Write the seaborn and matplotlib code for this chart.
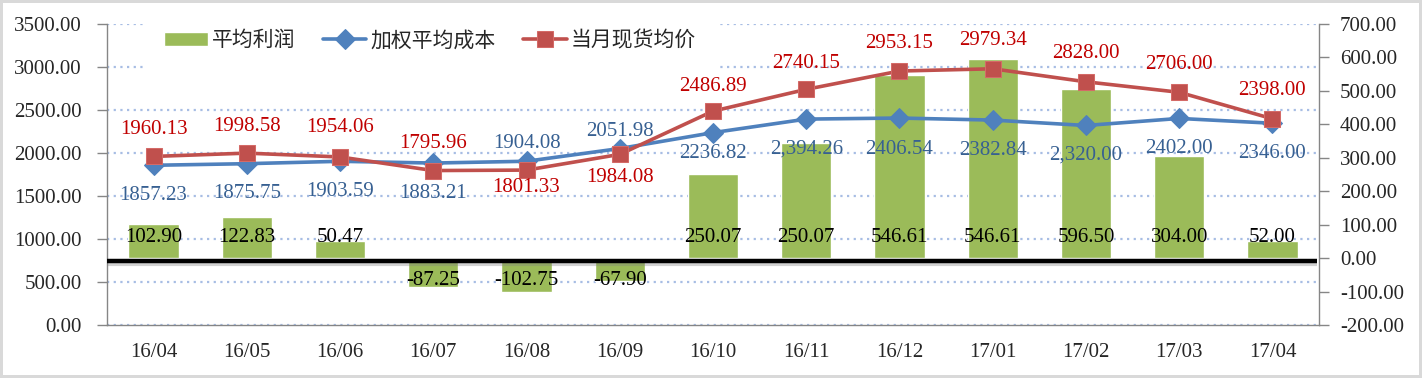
import numpy as np
import matplotlib
matplotlib.use('Agg')
import matplotlib.pyplot as plt
import matplotlib.transforms as mtransforms
from matplotlib.ticker import FormatStrFormatter
import seaborn as sns

# data
months = ['16/04', '16/05', '16/06', '16/07', '16/08', '16/09', '16/10',
          '16/11', '16/12', '17/01', '17/02', '17/03', '17/04']
profit = [102.90, 122.83, 50.47, -87.25, -102.75, -67.90, 250.07,
          345.0, 546.61, 596.50, 505.0, 304.00, 52.00]
profit_labels = ['102.90', '122.83', '50.47', '-87.25', '-102.75', '-67.90', '250.07',
                 '250.07', '546.61', '546.61', '596.50', '304.00', '52.00']
cost = [1857.23, 1875.75, 1903.59, 1883.21, 1904.08, 2051.98, 2236.82,
        2394.26, 2406.54, 2382.84, 2320.00, 2402.00, 2346.00]
cost_labels = ['1857.23', '1875.75', '1903.59', '1883.21', '1904.08', '2051.98', '2236.82',
               '2,394.26', '2406.54', '2382.84', '2,320.00', '2402.00', '2346.00']
spot = [1960.13, 1998.58, 1954.06, 1795.96, 1801.33, 1984.08, 2486.89,
        2740.15, 2953.15, 2979.34, 2828.00, 2706.00, 2398.00]
series_names = ['平均利润', '加权平均成本', '当月现货均价']

# label offsets in pixels (style, not data)
spot_dy = [27, 27, 29, 27, -17, -23, 25, 26, 28, 28, 28, 28, 28]
cost_dy = [-30, -30, -30, -30, 18, 17, -21, -30, -31, -30, -30, -30, -30]

green = '#9BBB59'
blue = '#4F81BD'
red = '#C0504D'
gray = '#868686'

sns.set_style('white')
plt.rcParams['font.family'] = ['Liberation Serif', 'Noto Sans CJK SC', 'DejaVu Sans']

fig = plt.figure(figsize=(14.22, 3.78), dpi=100)
fig.patch.set_edgecolor('#D9D9D9')
fig.patch.set_linewidth(4)

ax = fig.add_axes([0.0752, 0.1402, 0.8524, 0.7963])
axb = ax.twinx()
axl = ax.twinx()

x = np.arange(len(months))

# bars on the right axis
sns.barplot(x=months, y=profit, ax=axb, color=green, saturation=1,
            width=0.54, label=series_names[0])
if axb.get_legend():
    axb.get_legend().remove()

# thick zero line with a soft shadow
tr = mtransforms.offset_copy(axb.get_yaxis_transform(), fig=fig, y=-3, units='dots')
tr_sh = mtransforms.offset_copy(axb.get_yaxis_transform(), fig=fig, y=-6, units='dots')
axb.plot([0, 0.9985], [0, 0], transform=tr_sh, color='#7F7F7F', lw=3, alpha=0.35,
         solid_capstyle='butt')
axb.plot([0, 0.9985], [0, 0], transform=tr, color='black', lw=3.2, solid_capstyle='butt')

for i, (v, t) in enumerate(zip(profit, profit_labels)):
    dy = 21 if v >= 0 else -22
    axb.annotate(t, (i, 0), xytext=(0, dy), textcoords='offset pixels',
                 ha='center', va='center', fontsize=15, color='black')

# lines on the left axis (top layer)
sns.lineplot(x=x, y=cost, ax=axl, color=blue, marker='D', markersize=10,
             markeredgecolor=blue, linewidth=2.6, label=series_names[1])
sns.lineplot(x=x, y=spot, ax=axl, color=red, marker='s', markersize=12,
             markeredgecolor='#D46A67', linewidth=2.6, label=series_names[2])

for i in range(len(months)):
    axl.annotate(f'{spot[i]:.2f}', (i, spot[i]), xytext=(0, spot_dy[i]),
                 textcoords='offset pixels', ha='center', va='center',
                 fontsize=15, color='#C00000')
    axl.annotate(cost_labels[i], (i, cost[i]), xytext=(0, cost_dy[i]),
                 textcoords='offset pixels', ha='center', va='center',
                 fontsize=15, color='#376092')

# axes limits and ticks
ax.set_ylim(0, 3500)
axl.set_ylim(0, 3500)
axb.set_ylim(-200, 700)
ax.set_xlim(-0.5, len(months) - 0.5)

ax.set_yticks(np.arange(0, 3501, 500))
axb.set_yticks(np.arange(-200, 701, 100))
ax.yaxis.set_major_formatter(FormatStrFormatter('%.2f'))
axb.yaxis.set_major_formatter(FormatStrFormatter('%.2f'))
ax.yaxis.grid(True, linestyle=(0, (1, 2)), color='#A7BDE4', linewidth=1.6)

ax.set_xticks(x)
ax.set_xticklabels(months)
ax.set_xticks(np.arange(-0.5, len(months), 1), minor=True)
ax.tick_params(axis='x', which='major', length=0, pad=13, labelsize=15)
ax.tick_params(axis='x', which='minor', length=8, width=1, color=gray, direction='out')
ax.tick_params(axis='y', length=7, width=1, color=gray, direction='out', pad=11, labelsize=15)
axb.tick_params(axis='y', length=7, width=1, color=gray, direction='out', pad=8, labelsize=15)
axl.yaxis.set_visible(False)

for a in (ax, axb, axl):
    a.set_xlabel('')
    a.set_ylabel('')
    for s in a.spines.values():
        s.set_visible(False)
ax.spines['left'].set_visible(True)
ax.spines['bottom'].set_visible(True)
axb.spines['right'].set_visible(True)
for s in (ax.spines['left'], ax.spines['bottom'], axb.spines['right']):
    s.set_color(gray)
    s.set_linewidth(1)

# legend combining the bar and line series
hb, lb = axb.get_legend_handles_labels()
hl, ll = axl.get_legend_handles_labels()
leg = axl.legend(hb + hl, lb + ll, loc='upper left', bbox_to_anchor=(0.03, 1.052),
                 ncol=3, frameon=True, fancybox=False, borderpad=1.0, borderaxespad=0,
                 handlelength=2.1, handletextpad=0.2, columnspacing=1.3,
                 prop={'family': ['Noto Sans CJK SC'], 'size': 15})
leg.get_frame().set_facecolor('white')
leg.get_frame().set_edgecolor('none')
leg.get_frame().set_alpha(1)

fig.savefig('out.png', dpi=100)
